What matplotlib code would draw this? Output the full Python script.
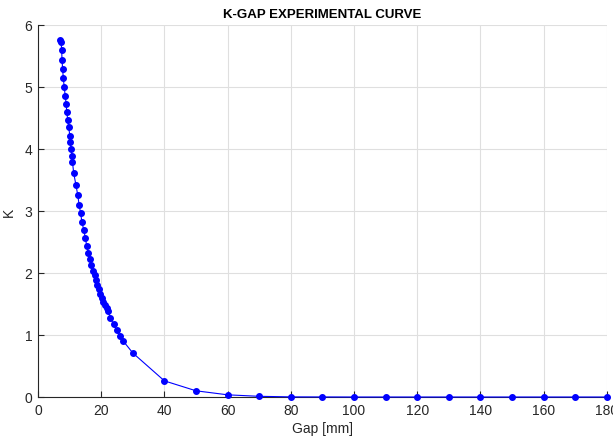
import matplotlib
matplotlib.use("Agg")
import matplotlib.pyplot as plt

# K vs gap
gap = [6.9, 7.3, 7.5, 7.6, 7.8, 8.0, 8.3, 8.6, 8.9, 9.1, 9.4, 9.7, 10.1, 10.2,
       10.5, 10.7, 10.9, 11.3, 12.0, 12.6, 13.0, 13.5, 13.9, 14.5, 15.0, 15.4,
       15.9, 16.5, 16.9, 17.3, 17.9, 18.3, 18.8, 19.2, 19.7, 20.3, 20.7, 21.2,
       21.7, 22.2, 22.9, 23.9, 24.9, 26.0, 27.0, 30.0, 40, 50, 60, 70, 80, 90,
       100, 110, 120, 130, 140, 150, 160, 170, 180]
k = [5.76, 5.73, 5.59, 5.43, 5.29, 5.14, 5.00, 4.86, 4.73, 4.60, 4.47, 4.35,
     4.21, 4.11, 4.00, 3.89, 3.79, 3.61, 3.42, 3.25, 3.10, 2.96, 2.82, 2.69,
     2.56, 2.44, 2.33, 2.23, 2.13, 2.04, 1.96, 1.89, 1.81, 1.74, 1.66, 1.60,
     1.54, 1.48, 1.43, 1.38, 1.28, 1.17, 1.08, 0.99, 0.90, 0.71, 0.26, 0.10,
     0.035, 0.011, 0.002, 0.001, 0.0, 0.0, 0.0, 0.0, 0.0, 0.0, 0.0, 0.0, 0.0]

xticks = list(range(0, 181, 20))
yticks = list(range(0, 7))

plt.rcParams['font.family'] = ['Liberation Sans', 'DejaVu Sans']

fig = plt.figure(figsize=(6.13, 4.39), dpi=100)
ax = fig.add_axes([0.062, 0.0934, 0.928, 0.8474])

ax.plot(gap, k, '-', color='#0000ff', linewidth=0.8, zorder=3, clip_on=False)
ax.plot(gap, k, 'o', color='#0000ff', markersize=4.0, zorder=4, clip_on=False)

ax.set_xlim(0, 180)
ax.set_ylim(0, 6)
ax.set_xticks(xticks)
ax.set_yticks(yticks)
ax.grid(True, color='#dfdfdf', linewidth=0.8)
ax.set_axisbelow(True)

for s in ['top', 'right']:
    ax.spines[s].set_visible(False)
for s in ['left', 'bottom']:
    ax.spines[s].set_color('#262626')
    ax.spines[s].set_linewidth(0.8)

ax.tick_params(direction='in', length=4, width=0.8, colors='#262626',
               labelsize=10, pad=4)

ax.set_title('K-GAP EXPERIMENTAL CURVE', fontsize=9.5, fontweight='bold', pad=6)
ax.set_xlabel('Gap [mm]', fontsize=10, color='#262626', labelpad=3)
ax.set_ylabel('K', fontsize=10, color='#262626', labelpad=6)

fig.savefig('out.png', dpi=100)
